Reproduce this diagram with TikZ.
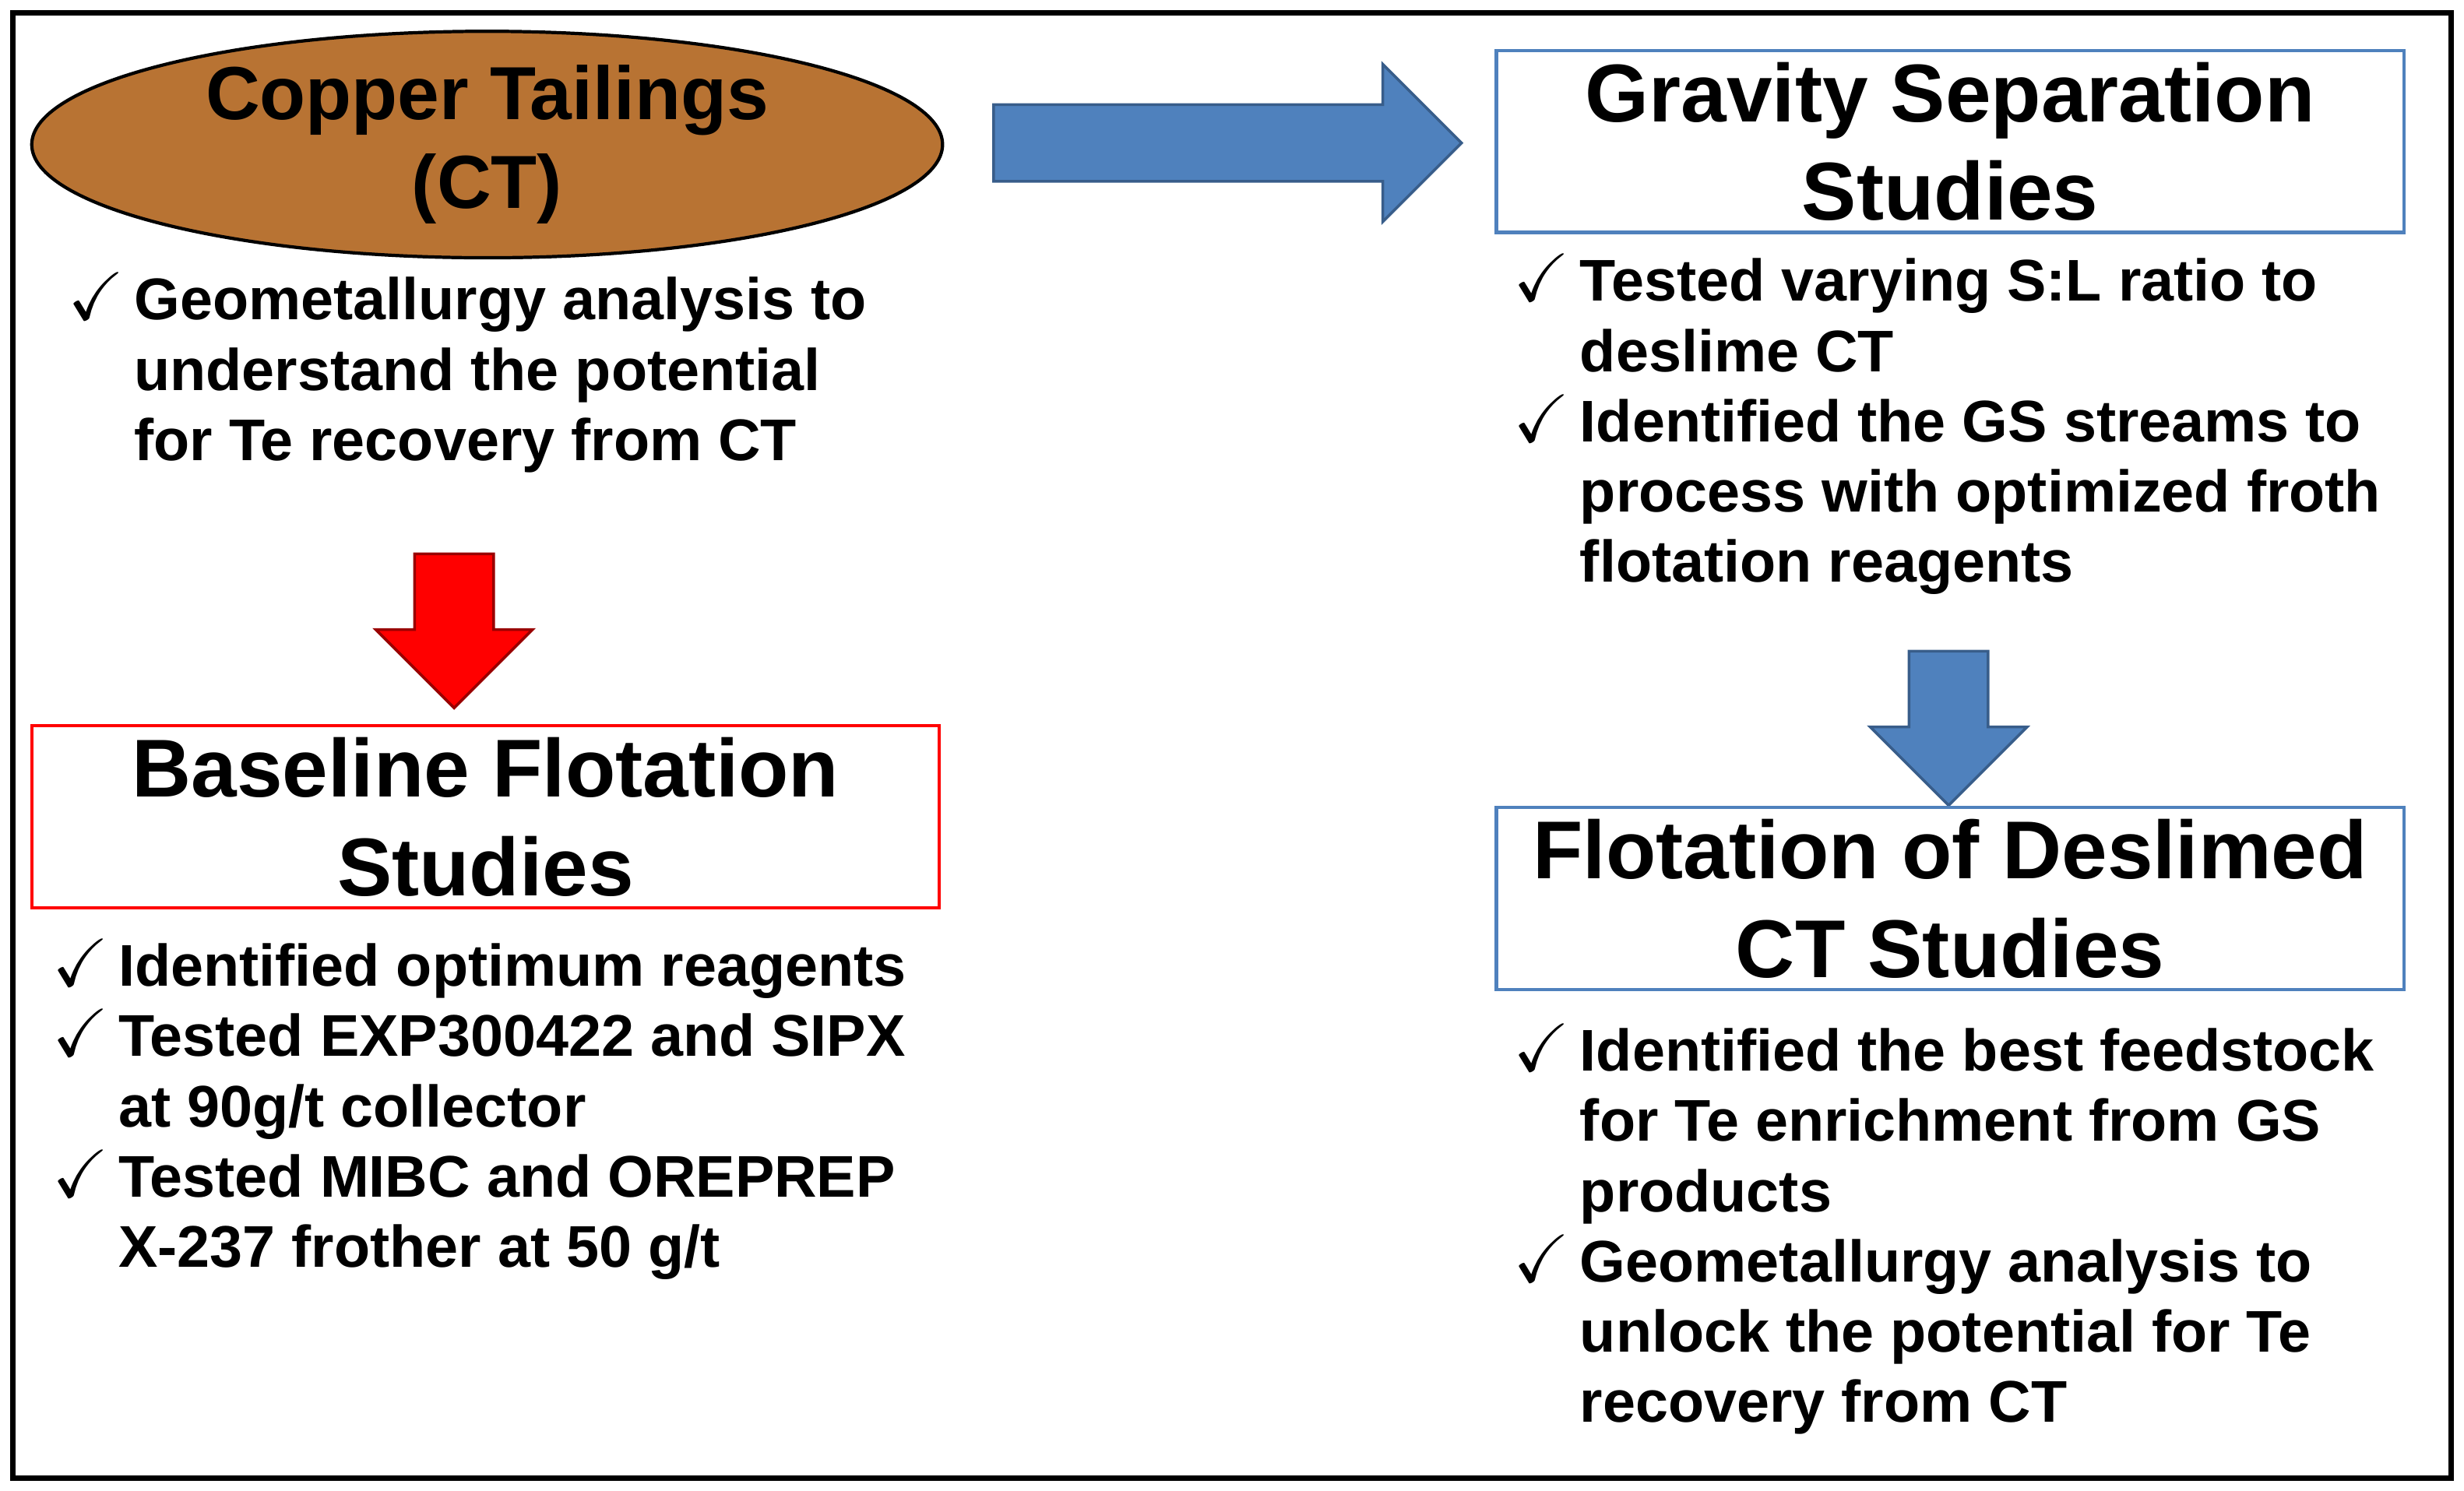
\documentclass[tikz,border=0pt]{standalone}
\usepackage{amssymb}
\usepackage{fontspec}
\setmainfont{Liberation Sans}
\usetikzlibrary{shapes.geometric,shapes.arrows,positioning}

\definecolor{ctbrown}{HTML}{B87333}
\definecolor{stepblue}{HTML}{4F81BD}
\definecolor{stepblueline}{HTML}{385D8A}

\tikzset{
  title/.style={font=\bfseries\fontsize{30}{36}\selectfont, align=center, inner sep=0pt},
  stepbox/.style={draw, line width=1.2pt, minimum width=11.66cm, minimum height=2.34cm, title},
  bullets/.style={font=\bfseries\fontsize{21.5}{25.7}\selectfont, anchor=north west, inner sep=0pt},
  blockarrow/.style={single arrow, draw=stepblueline, line width=1pt, fill=stepblue,
    inner xsep=0pt, inner ysep=0.475cm, single arrow head extend=0.52cm},
  downarrow/.style={blockarrow, shape border rotate=270, minimum height=1.98cm,
    inner sep=0.49cm, single arrow head extend=0.5cm}
}
\newcommand{\ck}{\scalebox{1.15}{$\checkmark$}}

\begin{document}
\begin{tikzpicture}[x=0.02018cm, y=-0.02018cm]
  \useasboundingbox (0,0) rectangle (1568,949);
  \draw[line width=2pt] (8,8) rectangle (1560,941);

  % source material
  \node[ellipse, draw, line width=1.2pt, fill=ctbrown, minimum width=11.7cm, minimum height=2.91cm,
        inner sep=0pt, font=\bfseries\fontsize{27.5}{32.6}\selectfont, align=center] (ct) at (310,92)
        {Copper Tailings\\(CT)};
  \node[bullets] (ctlist) at (43,172) {\begin{tabular}{@{}l@{\,}l@{}}
    \ck & Geometallurgy analysis to\\
        & understand the potential\\
        & for Te recovery from CT
  \end{tabular}};

  % baseline route
  \node[downarrow, draw=red!60!black, fill=red] (down1) at (289,389) {};
  \node[stepbox, draw=red] (base) at (309,520) {Baseline Flotation\\Studies};
  \node[bullets] (baselist) at (33,596) {\begin{tabular}{@{}l@{\,}l@{}}
    \ck & Identified optimum reagents\\
    \ck & Tested EXP300422 and SIPX\\
        & at 90g/t collector\\
    \ck & Tested MIBC and OREPREP\\
        & X-237 frother at 50 g/t
  \end{tabular}};

  % gravity route
  \node[blockarrow, minimum height=6.01cm] (right1) at (769,91) {};
  \node[stepbox, draw=stepblue] (grav) at (1241,90) {Gravity Separation\\Studies};
  \node[bullets] (gravlist) at (963,160) {\begin{tabular}{@{}l@{\,}l@{}}
    \ck & Tested varying S:L ratio to\\
        & deslime CT\\
    \ck & Identified the GS streams to\\
        & process with optimized froth\\
        & flotation reagents
  \end{tabular}};

  \node[downarrow] (down2) at (1240,451) {};
  \node[stepbox, draw=stepblue] (desl) at (1241,572) {Flotation of Deslimed\\CT Studies};
  \node[bullets] (desllist) at (963,650) {\begin{tabular}{@{}l@{\,}l@{}}
    \ck & Identified the best feedstock\\
        & for Te enrichment from GS\\
        & products\\
    \ck & Geometallurgy analysis to\\
        & unlock the potential for Te\\
        & recovery from CT
  \end{tabular}};
\end{tikzpicture}
\end{document}
